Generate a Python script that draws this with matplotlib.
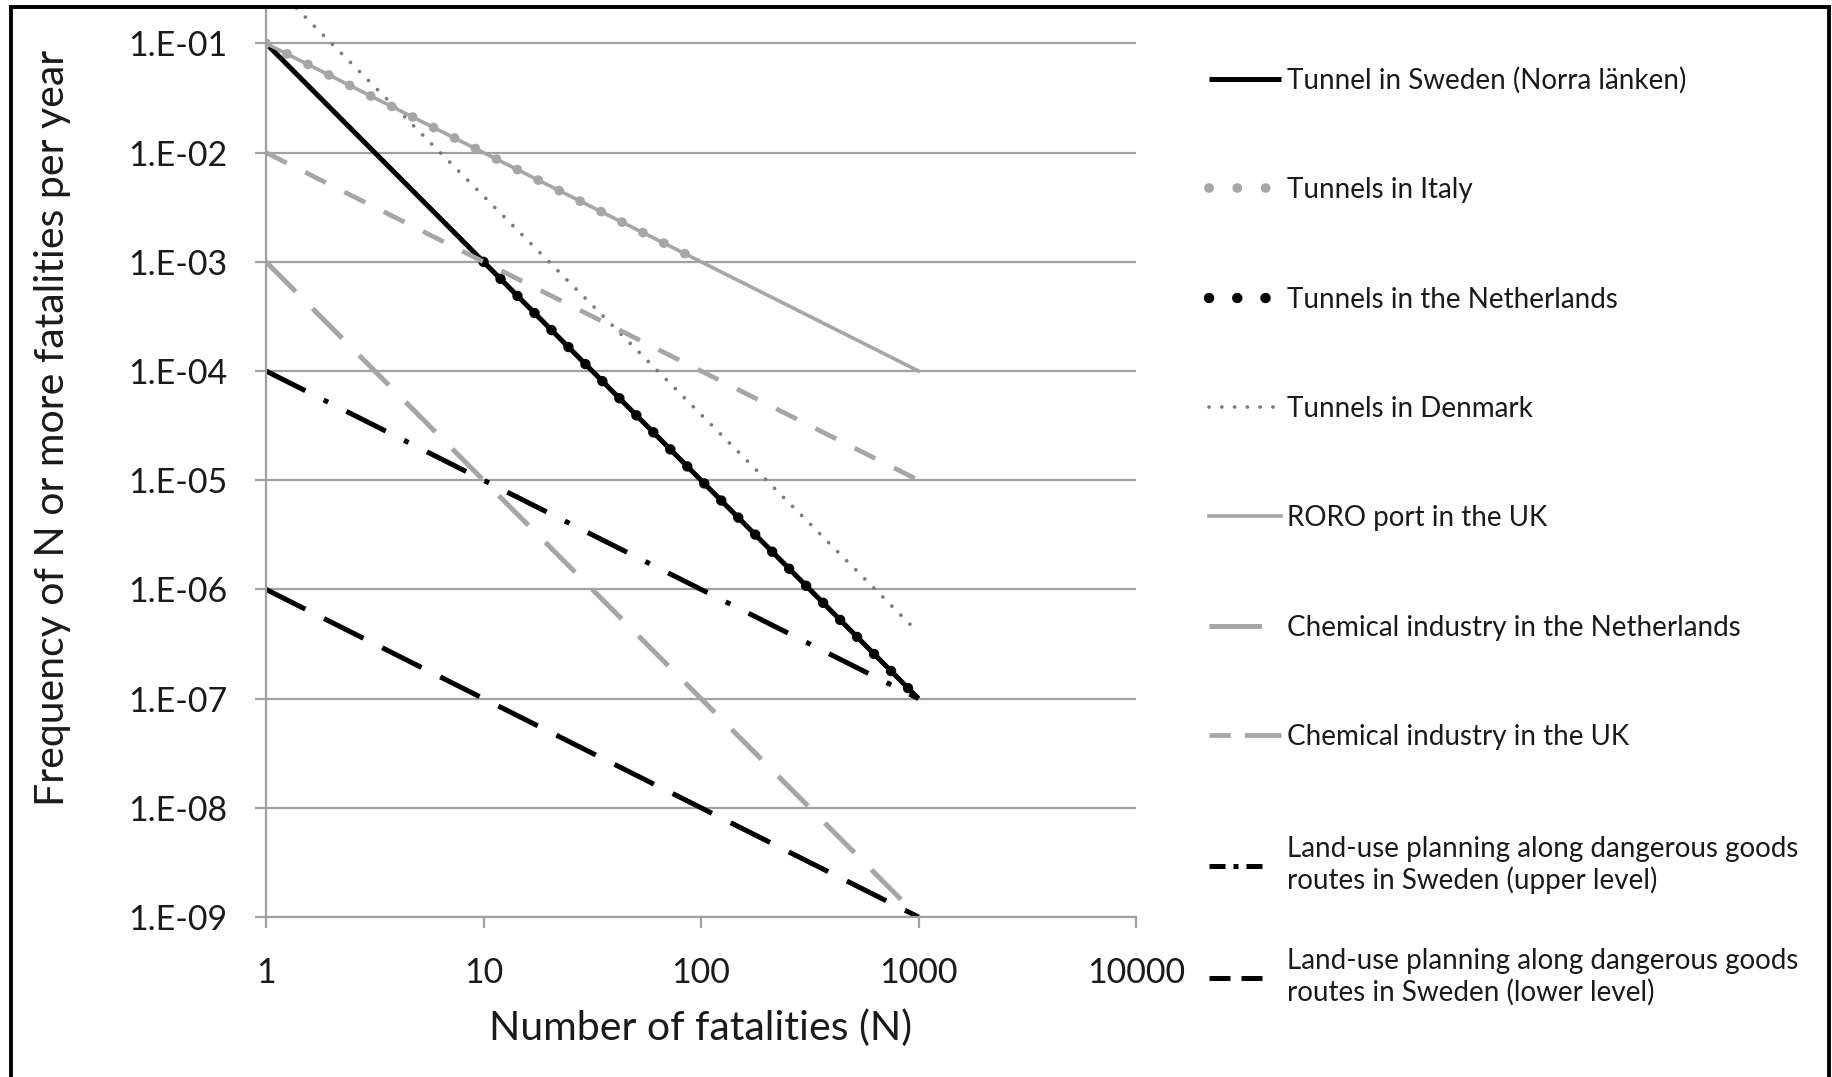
import matplotlib
matplotlib.use("Agg")
import matplotlib.pyplot as plt
from matplotlib.patches import Rectangle
from matplotlib import ticker

plt.rcParams['font.family'] = ['Lato', 'DejaVu Sans']

# F-N curves: end points (N, frequency) of each criterion line
N_sweden = [1, 1000]
F_sweden = [1e-1, 1e-7]
N_italy = [1, 100]
F_italy = [1e-1, 1e-3]
N_nl_tunnel = [10, 1000]
F_nl_tunnel = [1e-3, 1e-7]
N_denmark = [1, 1000]
F_denmark = [4e-1, 4e-7]
N_roro = [1, 1000]
F_roro = [1e-1, 1e-4]
N_chem_nl = [1, 1000]
F_chem_nl = [1e-3, 1e-9]
N_chem_uk = [1, 1000]
F_chem_uk = [1e-2, 1e-5]
N_upper = [1, 1000]
F_upper = [1e-4, 1e-7]
N_lower = [1, 1000]
F_lower = [1e-6, 1e-9]

labels = [
    'Tunnel in Sweden (Norra länken)',
    'Tunnels in Italy',
    'Tunnels in the Netherlands',
    'Tunnels in Denmark',
    'RORO port in the UK',
    'Chemical industry in the Netherlands',
    'Chemical industry in the UK',
    'Land-use planning along dangerous goods\nroutes in Sweden (upper level)',
    'Land-use planning along dangerous goods\nroutes in Sweden (lower level)',
]

x_ticks = [1, 10, 100, 1000, 10000]
x_ticklabels = ['1', '10', '100', '1000', '10000']
y_ticks = [1e-1, 1e-2, 1e-3, 1e-4, 1e-5, 1e-6, 1e-7, 1e-8, 1e-9]
y_ticklabels = ['1.E-01', '1.E-02', '1.E-03', '1.E-04', '1.E-05',
                '1.E-06', '1.E-07', '1.E-08', '1.E-09']

GREY = '#a6a6a6'
GRID = '#a0a0a0'
W, H = 1832, 1077

fig = plt.figure(figsize=(W / 100, H / 100), dpi=100)
ax = fig.add_axes([266 / W, 1 - 917 / H, 870 / W, (917 - 8) / H])

lines = []
lines += ax.plot(N_sweden, F_sweden, color='black', lw=3.6, solid_capstyle='butt')
lines += ax.plot(N_italy, F_italy, color=GREY, lw=7, linestyle=(0, (0.01, 2.4)),
                 dash_capstyle='round')
lines += ax.plot(N_nl_tunnel, F_nl_tunnel, color='black', lw=7.5,
                 linestyle=(0, (0.01, 2.3)), dash_capstyle='round')
lines += ax.plot(N_denmark, F_denmark, color='#7a7a7a', lw=2.7,
                 linestyle=(0, (0.01, 3.4)), dash_capstyle='round')
lines += ax.plot(N_roro, F_roro, color=GREY, lw=2.6)
lines += ax.plot(N_chem_nl, F_chem_nl, color=GREY, lw=3.6,
                 linestyle=(0, (8.4, 4.8)), dash_capstyle='butt')
lines += ax.plot(N_chem_uk, F_chem_uk, color=GREY, lw=3.4,
                 linestyle=(0, (4.9, 4.4)), dash_capstyle='butt')
lines += ax.plot(N_upper, F_upper, color='black', lw=3.6,
                 linestyle=(0, (8.8, 4.1, 1, 4.1)), dash_capstyle='butt')
lines += ax.plot(N_lower, F_lower, color='black', lw=3.6,
                 linestyle=(0, (8.8, 4.2)), dash_capstyle='butt')

ax.set_xscale('log')
ax.set_yscale('log')
ax.set_xlim(1, 10000)
ax.set_ylim(1e-9, 10 ** -0.676)

ax.xaxis.set_major_locator(ticker.FixedLocator(x_ticks))
ax.xaxis.set_major_formatter(ticker.FixedFormatter(x_ticklabels))
ax.xaxis.set_minor_locator(ticker.NullLocator())
ax.yaxis.set_major_locator(ticker.FixedLocator(y_ticks))
ax.yaxis.set_major_formatter(ticker.FixedFormatter(y_ticklabels))
ax.yaxis.set_minor_locator(ticker.NullLocator())

ax.grid(axis='y', color=GRID, lw=1.6)
ax.set_axisbelow(True)
for side in ['top', 'right']:
    ax.spines[side].set_visible(False)
for side in ['left', 'bottom']:
    ax.spines[side].set_color(GRID)
    ax.spines[side].set_linewidth(1.6)

ax.tick_params(axis='y', length=8, width=1.6, color=GRID, pad=20,
               labelsize=24.5, labelcolor='#1a1a1a')
ax.tick_params(axis='x', length=8, width=1.6, color=GRID, pad=21,
               labelsize=24.5, labelcolor='#1a1a1a')

fig.text(701 / W, 1 - 1028 / H, 'Number of fatalities (N)', ha='center',
         va='center', fontsize=29.5, color='#1a1a1a')
fig.text(53 / W, 1 - 428 / H, 'Frequency of N or more fatalities per year',
         ha='center', va='center', rotation=90, fontsize=29.5, color='#1a1a1a')

# legend: single-line entries, then the two land-use entries
leg_kw = dict(loc='upper left', bbox_transform=fig.transFigure, frameon=False,
              fontsize=20, handlelength=2.6, handletextpad=0.2,
              borderpad=0, borderaxespad=0)
leg1 = ax.legend(lines[:7], labels[:7], bbox_to_anchor=(1209 / W, 1 - 67 / H),
                 labelspacing=3.0, **leg_kw)
ax.add_artist(leg1)
leg2 = ax.legend(lines[7:], labels[7:], bbox_to_anchor=(1209 / W, 1 - 836 / H),
                 labelspacing=1.95, **leg_kw)
for leg in (leg1, leg2):
    for t in leg.get_texts():
        t.set_color('#1a1a1a')

# shorter legend keys, as in the original
h1 = leg1.legend_handles
h1[1].set_linestyle((0, (0.01, 2.9)))
h1[2].set_linestyle((0, (0.01, 2.7)))
h1[5].set_linestyle((0, (10.5, 30)))
h1[6].set_linestyle((0, (4.5, 3.0, 8, 30)))
h2 = leg2.legend_handles
h2[0].set_linestyle((0, (3.2, 1.6, 1, 1.6, 3.2, 30)))
h2[1].set_linestyle((0, (4.2, 2.2, 4.2, 30)))

# black frame round the picture (bottom edge cut off)
fig.patches.append(Rectangle((11 / W, -0.05), (1829 - 11) / W, 1.05 - 7 / H,
                             transform=fig.transFigure, fill=False,
                             edgecolor='black', lw=2.8))

fig.savefig('out.png', dpi=100)
